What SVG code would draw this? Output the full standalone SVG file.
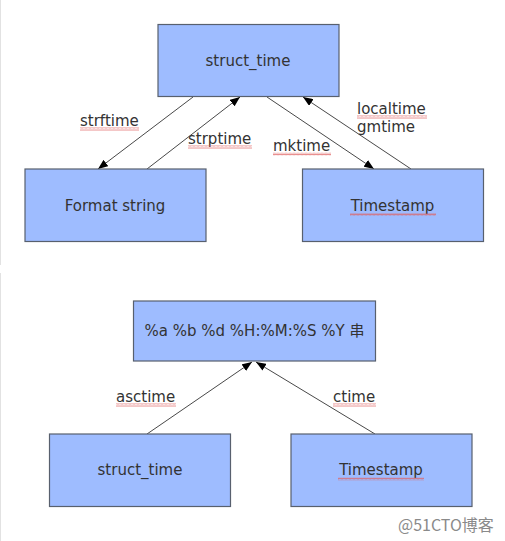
<svg xmlns="http://www.w3.org/2000/svg" width="505" height="541" viewBox="0 0 505 541">
<defs>
<style>
.box{fill:#9ebcff;stroke:#58606e;stroke-width:1.2}
.t{font-family:"DejaVu Sans",sans-serif;font-size:15px;fill:#333333}
.c{text-anchor:middle}
.ln{stroke:#333333;stroke-width:0.9;fill:none}
</style>
<marker id="ah" viewBox="0 0 10 8" refX="10" refY="4" markerWidth="10" markerHeight="8" markerUnits="userSpaceOnUse" orient="auto">
<path d="M0,0 L10,4 L0,8 Z" fill="#000"/>
</marker>
<pattern id="wave" width="4" height="3" patternUnits="userSpaceOnUse">
<path d="M0,2.5 L1,0.5 L2,2.5 L3,0.5 L4,2.5" fill="none" stroke="#e06060" stroke-width="0.7"/>
</pattern>
</defs>
<rect width="505" height="541" fill="#ffffff"/>
<line x1="0.5" y1="0" x2="0.5" y2="265" stroke="#e2e2e2"/>
<line x1="0.5" y1="273" x2="0.5" y2="541" stroke="#e2e2e2"/>

<g id="connectors">
<line class="ln" x1="193" y1="97" x2="98" y2="169" marker-end="url(#ah)"/>
<line class="ln" x1="147" y1="169" x2="240" y2="97" marker-end="url(#ah)"/>
<line class="ln" x1="267" y1="97" x2="374" y2="169" marker-end="url(#ah)"/>
<line class="ln" x1="411" y1="169" x2="303" y2="97" marker-end="url(#ah)"/>
<line class="ln" x1="147" y1="434" x2="252" y2="362" marker-end="url(#ah)"/>
<line class="ln" x1="375" y1="434" x2="256" y2="362" marker-end="url(#ah)"/>
<text class="t" x="80" y="126">strftime</text>
<rect x="80" y="127.5" width="59" height="3" fill="url(#wave)"/>
<text class="t" x="188" y="144">strptime</text>
<rect x="188" y="145.5" width="64" height="3" fill="url(#wave)"/>
<text class="t" x="273" y="151">mktime</text>
<rect x="273" y="152.5" width="58" height="3" fill="url(#wave)"/>
<text class="t" x="357" y="114">localtime</text>
<rect x="357" y="115.5" width="70" height="3" fill="url(#wave)"/>
<text class="t" x="357" y="131.5">gmtime</text>
<text class="t" x="116" y="402">asctime</text>
<rect x="116" y="403.5" width="60" height="3" fill="url(#wave)"/>
<text class="t" x="333" y="402">ctime</text>
<rect x="333" y="403.5" width="43" height="3" fill="url(#wave)"/>
</g>

<g id="n-struct-top">
<rect class="box" x="158" y="24.5" width="181" height="72"/>
<text class="t c" x="248" y="66">struct_time</text>
</g>
<g id="n-format">
<rect class="box" x="25" y="169" width="181" height="72.5"/>
<text class="t c" x="115" y="210.5">Format string</text>
</g>
<g id="n-timestamp-top">
<rect class="box" x="302.5" y="169" width="181" height="72.5"/>
<text class="t c" x="392.5" y="210.5">Timestamp</text>
<rect x="350" y="213" width="86" height="3" fill="url(#wave)"/>
</g>
<g id="n-fmtstr">
<rect class="box" x="133.5" y="301" width="242" height="60"/>
<text class="t c" x="254.5" y="336">%a %b %d %H:%M:%S %Y <tspan font-family="'Noto Sans CJK SC',sans-serif">串</tspan></text>
</g>
<g id="n-struct-bottom">
<rect class="box" x="49.5" y="434" width="181" height="72.5"/>
<text class="t c" x="140" y="475">struct_time</text>
</g>
<g id="n-timestamp-bottom">
<rect class="box" x="291" y="434" width="181" height="72.5"/>
<text class="t c" x="381" y="475">Timestamp</text>
<rect x="338" y="477.5" width="86" height="3" fill="url(#wave)"/>
</g>
<text x="398" y="531" font-family="'Noto Sans CJK SC',sans-serif" font-size="16" fill="#8a8a8a">@51CTO博客</text>
</svg>
